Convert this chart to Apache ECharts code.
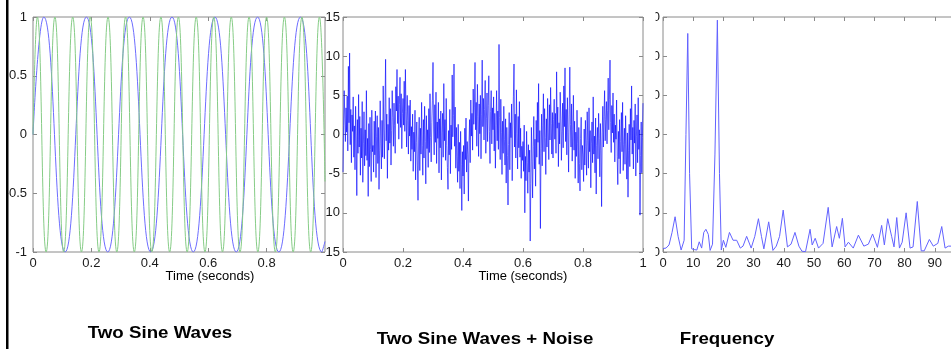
<!DOCTYPE html>
<html>
<head>
<meta charset="utf-8">
<script src="https://cdn.jsdelivr.net/npm/echarts@6/dist/echarts.min.js"></script>
<style>
  html, body { margin: 0; padding: 0; background: #fff; }
  #chart { width: 951px; height: 349px; }
</style>
</head>
<body>
<div id="chart"></div>
<script>
// left panel: turning points of the two sine waves
const blueT = [0, 0.037, 0.110, 0.183, 0.256, 0.330, 0.403, 0.476, 0.549, 0.623, 0.696, 0.769, 0.842, 0.916, 0.989, 1.0];
const blueY = [0, 1, -1, 1, -1, 1, -1, 1, -1, 1, -1, 1, -1, 1, -1, -0.91];
const greenT = [0, 0.015, 0.045, 0.075, 0.105, 0.136, 0.166, 0.196, 0.226, 0.257, 0.287, 0.317, 0.347, 0.377, 0.407,
  0.438, 0.468, 0.498, 0.528, 0.559, 0.589, 0.619, 0.649, 0.679, 0.709, 0.740, 0.770, 0.800, 0.830, 0.861, 0.891,
  0.921, 0.951, 0.981, 1.0];
const greenY = [0, 1, -1, 1, -1, 1, -1, 1, -1, 1, -1, 1, -1, 1, -1, 1, -1, 1, -1, 1, -1, 1, -1, 1, -1, 1, -1, 1, -1,
  1, -1, 1, -1, 1, -0.4];

// middle panel: noisy signal, one value every 0.002 s
const noiseY = [
  -4.8, 1.2, 5.6, 2.1, -0.9, 3.4, 0.3, 4.9, -2.1, 8.7, 1.5, 10.4, -1.3, 3.2, -3.6, 2.5, 0.4, 4.8, -2.9, 1.1,
  -4.5, 3.6, -0.7, -7.8, 1.9, -2.4, 5.1, -1.6, 2.3, -5.2, 0.8, -3.0, 4.2, -6.1, -1.2, 2.9, -4.0, 0.6, -2.7, 5.6,
  -3.3, -0.5, -7.9, 1.4, -4.1, 2.2, -1.9, -6.0, 3.1, -2.2,
  -1.4, -4.8, 1.7, -2.6, 3.0, -5.5, -0.3, 2.4, -3.7, 0.9, -7.0, -2.1, 4.3, -1.2, -4.4, 1.8, -2.9, 6.2, 0.7, -3.1,
  3.5, 9.6, -0.8, 2.6, -5.6, 1.3, -2.0, 4.7, -1.1, 3.3, -3.9, 0.5, 5.6, 2.2, -1.5, 4.0, 1.1, -2.4, 6.1, 3.0,
  8.3, 1.4, 4.9, -0.6, 3.8, 7.3, 0.9, 5.2, -1.8, 2.7,
  4.6, 1.2, 6.8, 0.4, 8.3, 2.9, -1.6, 5.0, 1.8, -2.5, 3.7, -0.2, 4.4, -3.4, 1.0, -1.9, 2.6, -4.7, 0.3, -2.2,
  3.1, -5.8, -1.0, 1.6, -3.9, -8.4, -0.7, 2.2, -4.6, 0.8, -2.5, 4.1, -1.4, -5.2, 1.9, -3.0, 3.6, -0.9, -6.3, 2.4,
  -1.8, 0.6, -4.2, 3.3, -2.3, 5.2, -0.4, -3.5, 1.5, 4.3,
  9.2, 0.7, -2.6, 3.8, -1.0, 5.4, -3.7, 1.6, -0.5, 4.1, -4.9, 2.0, -1.7, 3.0, -5.8, 0.2, 2.7, -2.9, 6.5, -0.8,
  1.9, -3.3, 4.6, -1.4, -4.2, -7.0, 0.5, -2.6, 3.2, -5.0, 1.2, -1.9, 7.6, -0.3, 2.4, 9.0, -1.5, 3.5, -4.3, 0.9,
  -2.8, -6.1, 1.3, -4.7, -1.0, -6.9, 0.4, -3.8, -9.7, -2.2,
  -5.3, -1.4, -7.6, 0.8, -3.2, 2.1, -4.8, -0.9, -2.5, -8.5, -1.1, 1.9, -3.6, 4.4, -0.2, 2.7, -2.0, 5.8, 1.3, 3.5,
  9.2, 0.6, 4.1, -1.5, 6.4, 2.3, -2.8, 3.9, 0.1, 5.0, -3.1, 2.5, 9.5, 1.0, 4.6, -0.7, 3.2, 6.9, -2.4, 2.0,
  5.3, -0.9, 3.7, 7.5, 0.4, -3.7, 2.9, 5.6, -1.2, 3.4,
  0.6, 4.8, -2.1, 2.7, -4.3, 1.1, 5.6, -0.8, 3.0, -1.9, 11.5, 2.2, -3.2, 4.5, 0.3, -5.1, 1.7, -2.4, 3.6, -0.6,
  -3.9, 2.0, -6.2, 0.9, -2.7, -9.0, -1.3, 2.8, -4.5, 1.5, -0.4, 3.9, -5.9, 0.7, 4.8, 9.0, -1.6, 2.6, -3.0, 5.7,
  0.1, -4.4, 2.3, -1.7, 4.2, -2.9, 0.8, -5.6, -1.5, -3.3,
  -0.9, -4.7, 1.2, -10.0, -2.8, -5.9, 0.4, -3.6, -7.5, -1.3, -4.8, -2.0, -13.6, -6.3, 0.9, -3.4, -8.1, -1.5, 2.3, -4.4,
  -0.6, -6.6, 1.8, -2.9, 4.1, -1.0, 6.5, -3.8, 0.5, -12.0, -1.8, 2.6, -4.0, 1.1, 5.2, -2.2, 3.3, -0.4, -5.1, 2.0,
  -1.6, 4.6, 0.2, -3.2, 3.8, -0.7, 6.0, 1.4, -2.5, 2.8,
  -3.0, 1.9, 4.5, -0.6, 2.7, -2.4, 8.0, 0.8, 3.5, -4.1, 1.5, -1.2, 5.4, 2.1, -3.3, 0.4, 4.0, -1.7, 6.2, 1.0,
  8.5, -0.9, 3.2, -2.6, 4.7, 0.2, -4.8, 2.6, 8.6, 1.3, -1.6, 3.9, -3.4, 0.6, 5.0, -2.0, 1.7, -5.6, 0.3, -2.8,
  3.1, -1.1, -6.2, 0.9, -3.7, -7.2, -0.5, 2.2, -4.5, -1.4,
  -2.6, -6.0, 0.7, -3.9, 1.8, -1.5, -5.2, 2.9, -0.8, -4.3, 3.4, -2.2, 0.5, -6.8, -1.1, 1.6, -3.6, 4.8, -2.5, -0.2,
  -4.9, 2.1, -7.6, -1.4, 0.9, -3.1, 2.7, -0.5, -5.4, 1.4, -2.0, -9.2, 0.3, 3.6, -1.6, 2.3, 5.6, -0.8, 1.9, 4.2,
  -1.2, 3.1, 7.2, 0.6, 4.5, 9.5, 1.5, -2.3, 3.7, 0.2,
  5.3, -1.0, 2.6, -3.5, 1.2, -0.6, 4.4, -2.8, -6.4, 0.4, -3.1, 1.9, -5.0, -0.9, 2.8, -2.2, 4.1, -4.6, -1.3, 0.8,
  -3.8, 2.4, -1.6, -5.7, 0.2, -8.0, -2.0, 1.3, -4.1, 3.3, -0.7, 6.2, -2.5, 0.9, -4.4, 1.8, -1.1, 3.9, -5.3, -0.3,
  2.5, -3.6, 4.7, -1.9, 0.6, -10.3, -2.7, 1.6, -4.9, -0.4,
  4.0
];
const noiseStep = 0.002;

// right panel: spectrum
const freqHz = [0, 1, 2, 3, 4, 5, 6, 7, 7.6, 8.2, 8.8, 9.5, 10.5, 11.2, 12, 12.8, 13.5, 14.2, 15, 15.6, 16.4, 17.2, 18, 18.7,
  19.3, 20, 20.8, 22, 23.2, 24.4, 25.6, 26.5, 27.7, 29.2, 30.4, 31.6, 32.6, 33.4, 35, 36.4, 37.5, 38.6, 39.8, 41.2, 42.4,
  43.7, 45, 46, 47.2, 48.7, 49.4, 50.4, 51.5, 53, 54.7, 56, 57.5, 58.4, 59.4, 60.3, 61.4, 63, 64.7, 66.5, 68, 69.4, 71,
  72.4, 73.3, 74.4, 75.7, 76.5, 77.4, 78.3, 79.2, 80.5, 81.8, 82.8, 84.2, 85.5, 86.5, 88.2, 89.5, 91, 92.3, 93.4, 94.5,
  95.6, 97, 98.5, 100];
const freqAmp = [0.9, 1.0, 1.8, 5.0, 9.0, 4.0, 0.5, 3.0, 30, 55.8, 20, 0.8, 0.6, 0.5, 2.6, 1.0, 5.0, 5.8, 4.5, 0.4, 2.0, 25, 59.2, 20,
  0.5, 3.0, 1.2, 5.0, 3.0, 3.0, 1.0, 1.5, 4.0, 1.0, 4.0, 8.5, 4.0, 0.8, 7.7, 0.4, 1.5, 4.0, 10.7, 1.3, 2.0,
  5.0, 1.5, 0.2, 0.1, 5.8, 1.8, 3.5, 1.0, 2.2, 11.4, 1.3, 6.5, 3.5, 8.6, 1.3, 2.5, 1.0, 4.3, 1.5, 2.0, 4.6, 1.2,
  6.8, 1.8, 8.5, 4.0, 1.3, 8.8, 1.0, 2.5, 10, 1.0, 1.3, 12.9, 0.3, 0.3, 3.2, 1.5, 2.2, 6.5, 1.0, 1.5,
  1.5, 2.0, 1.0, 1.5];

const chart = echarts.init(document.getElementById('chart'), null, { renderer: 'canvas' });

const font = 'Liberation Sans, Arial, sans-serif';
const boxColor = '#8a8a8a';
const textColor = '#1a1a1a';
const tick = { show: true, inside: true, length: 4, lineStyle: { color: boxColor } };

function grid(left, width) {
  return {
    left: left, top: 17, width: width, height: 235,
    show: true, borderColor: boxColor, borderWidth: 1, backgroundColor: '#fff',
    containLabel: false, outerBoundsMode: 'none'
  };
}

// each panel gets a labelled axis plus a mirrored one on the other side for the inner ticks
function axisPair(gridIndex, min, max, interval, label) {
  const base = {
    type: 'value', gridIndex: gridIndex, min: min, max: max, interval: interval,
    axisLine: { show: false, onZero: false }, splitLine: { show: false }, axisTick: tick
  };
  return [
    Object.assign({}, base, {
      axisLabel: Object.assign({ color: textColor, fontFamily: font, fontSize: 13 }, label)
    }),
    Object.assign({}, base, { axisLabel: { show: false } })
  ];
}

const xAxes = [].concat(
  axisPair(0, 0, 1, 0.2, { margin: 5, showMaxLabel: false }),
  axisPair(1, 0, 1, 0.2, { margin: 5 }),
  axisPair(2, 0, 100, 10, { margin: 5 })
);
xAxes.forEach((a, i) => { a.position = i % 2 ? 'top' : 'bottom'; });

const yAxes = [].concat(
  axisPair(0, -1, 1, 0.5, { margin: 6 }),
  axisPair(1, -15, 15, 5, { margin: 3, formatter: (v) => (v <= -10 ? String(-v) : String(v)) }),
  axisPair(2, 0, 60, 10, { margin: 3 })
);
yAxes.forEach((a, i) => { a.position = i % 2 ? 'right' : 'left'; });

function line(axis, data, color, smooth) {
  return {
    type: 'line', xAxisIndex: axis, yAxisIndex: axis, data: data, smooth: smooth,
    showSymbol: false, silent: true, lineStyle: { color: color, width: 1 }
  };
}

function label(text, x, y, size, bold, sx) {
  return {
    type: 'text', x: x, y: y, scaleX: sx, z: 100,
    style: {
      text: text, fill: '#000', textAlign: 'center', textVerticalAlign: 'middle',
      font: (bold ? 'bold ' : '') + size + 'px ' + font
    }
  };
}

const option = {
  animation: false,
  grid: [grid(33, 292), grid(343, 300), grid(663, 302)],
  xAxis: xAxes,
  yAxis: yAxes,
  series: [
    line(0, blueT.map((t, i) => [t, blueY[i]]), '#6d6dff', true),
    line(0, greenT.map((t, i) => [t, greenY[i]]), '#86cc86', true),
    line(2, noiseY.map((v, i) => [i * noiseStep, v]), 'rgba(0,0,255,0.62)', false),
    line(4, freqHz.map((f, i) => [f, freqAmp[i]]), '#6262ff', false)
  ],
  graphic: [
    // the spectrum's y labels are cut off in the source, only a sliver shows
    { type: 'rect', z: 100, shape: { x: 645, y: 0, width: 10.5, height: 258 }, style: { fill: '#fff' } },
    { type: 'rect', z: 100, shape: { x: 0, y: 0, width: 6, height: 349 }, style: { fill: '#fff' } },
    { type: 'rect', z: 100, shape: { x: 6, y: 0, width: 2.5, height: 349 }, style: { fill: '#000' } },
    label('Time (seconds)', 210, 277, 12, false, 1.08),
    label('Time (seconds)', 523, 277, 12, false, 1.08),
    label('Two Sine Waves', 160, 333, 17, true, 1.1),
    label('Two Sine Waves + Noise', 485, 339, 17, true, 1.1),
    label('Frequency', 727, 339, 17, true, 1.1)
  ]
};

chart.setOption(option);
</script>
</body>
</html>
